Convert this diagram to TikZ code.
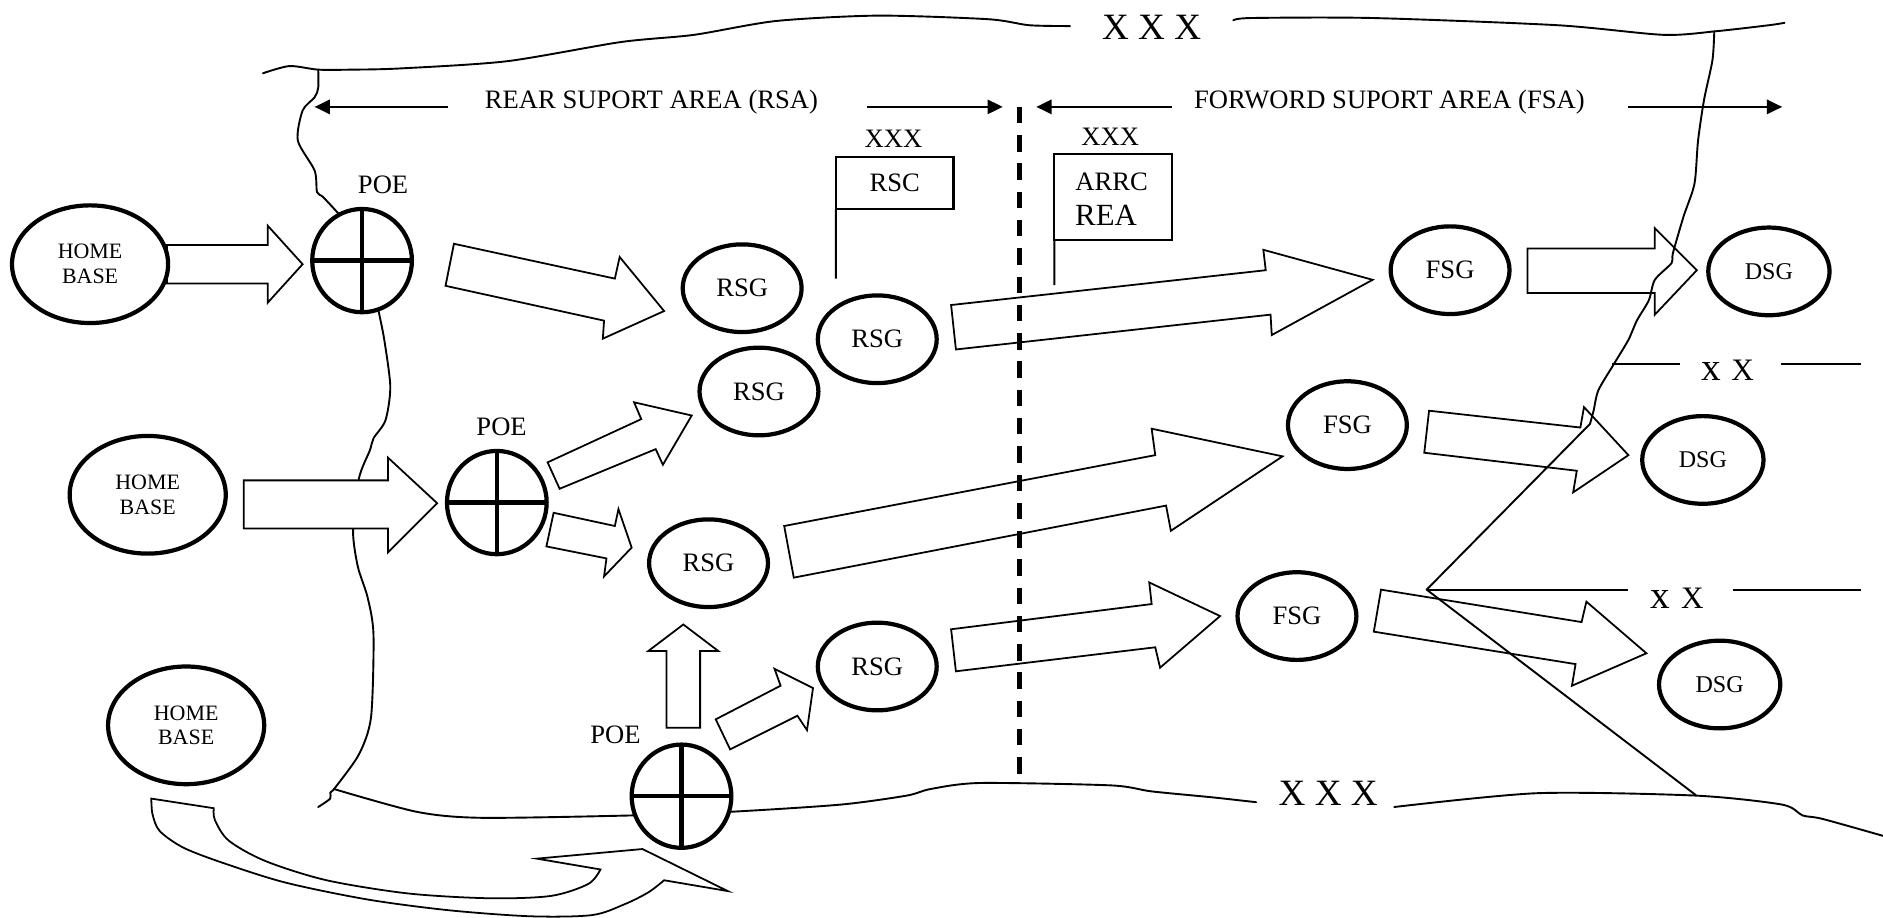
\documentclass[tikz,border=0pt]{standalone}
\usepackage{fontspec}
\setmainfont{Liberation Serif}
\usetikzlibrary{shapes.geometric,arrows.meta}
\begin{document}
\begin{tikzpicture}[x=0.1mm,y=-0.1mm,
  bnd/.style={line width=0.45pt, line join=round, line cap=round},
  blk/.style={draw, line width=0.42pt, fill=white, line join=miter},
  grp/.style={ellipse, draw, line width=1pt, fill=white, inner sep=0pt, outer sep=0pt,
    minimum width=9.9mm, minimum height=7.3mm, font=\fontsize{6.3pt}{7pt}\selectfont},
  dsg/.style={grp, minimum width=10.1mm, font=\fontsize{5.7pt}{7pt}\selectfont},
  hb/.style={grp, minimum width=13mm, minimum height=9.8mm, align=center,
    font=\fontsize{5.2pt}{5.9pt}\selectfont},
  poe/.style={ellipse, draw, line width=1pt, fill=white, inner sep=0pt, outer sep=0pt,
    minimum width=8.3mm, minimum height=8.6mm},
  cross/.style={line width=1pt},
  lbl/.style={font=\fontsize{6.3pt}{7pt}\selectfont, inner sep=0pt, anchor=base},
  big/.style={font=\fontsize{8.8pt}{10pt}\selectfont, inner sep=0pt, anchor=base},
  flagbox/.style={draw, line width=0.5pt, inner sep=0pt, outer sep=0pt, minimum width=9.8mm,
    font=\fontsize{6.3pt}{7pt}\selectfont},
  pole/.style={line width=0.5pt},
  area/.style={line width=0.45pt, -{Triangle[length=3.6pt,width=3.4pt]}},
  front/.style={line width=1.1pt, dash pattern=on 3.9pt off 2.8pt},
  xxline/.style={line width=0.45pt},
]
\useasboundingbox (0,0) rectangle (1568,764);

% ---- boundaries ----
\draw[bnd] plot[smooth,tension=0.45] coordinates {(219,61) (241,55) (265,58) (292,58) (333,57) (422,51) (517,35) (578,29) (646,17.5) (731,13) (823,16) (857,21) (891,21.7)};
\draw[bnd] plot[smooth,tension=0.45] coordinates {(1027,17) (1042,15) (1143,15) (1297,21) (1385,29) (1429,26) (1473,21) (1486,19)};
\draw[bnd] plot[smooth,tension=0.45] coordinates {(265,58) (265,73) (262,81) (252,92) (248,117) (262,142) (264,160) (269,164) (282,178)};
\draw[bnd] plot[smooth,tension=0.45] coordinates {(315,258) (320,283) (325,322) (321,350) (311,365) (308,375) (299,398) (294,442) (298,472) (306,497) (311,528) (309,597) (299,628) (279,656) (275,660) (275,665) (265,672)};
\draw[bnd] plot[smooth,tension=0.45] coordinates {(278,657) (347,676) (401,681) (527,679) (608,676) (700,670) (755,662.5) (775,657) (816,652) (925,654) (959,659) (1010,664) (1046,668)};
\draw[bnd] plot[smooth,tension=0.45] coordinates {(1161,672) (1280,660.5) (1412,662.5) (1484,670) (1501,679) (1518,682) (1575,698)};

% ---- block arrows ----
\draw[blk] (139,204) -- (223,204) -- (223,188) -- (252,220) -- (223,252) -- (223,236) -- (139,236) -- cycle;
\draw[blk] (378,203) -- (512,232) -- (516,214) -- (553,259) -- (502,282) -- (503,267) -- (371,238) -- cycle;
\draw[blk] (456,385) -- (534,349) -- (528,335) -- (576,346) -- (552,387) -- (546,374) -- (466,407) -- cycle;
\draw[blk] (461,427) -- (512,438) -- (515,424) -- (526,456) -- (503,480) -- (505,465) -- (455,455) -- cycle;
\draw[blk] (203,400) -- (323,400) -- (323,381) -- (364,419) -- (323,460) -- (323,440) -- (203,440) -- cycle;
\draw[blk] (555,606) -- (555,542) -- (540,542) -- (569,520) -- (598,542) -- (583,542) -- (583,606) -- cycle;
\draw[blk] (596,599) -- (650,571) -- (645,557) -- (677,573) -- (672,608) -- (664,596) -- (608,624) -- cycle;
\draw[blk] (792,254) -- (1054,225) -- (1052,208) -- (1143,233) -- (1059,279) -- (1058,262) -- (796,291) -- cycle;
\draw[blk] (653,438) -- (962,379) -- (959,357) -- (1068,380) -- (975,442) -- (971,421) -- (661,481) -- cycle;
\draw[blk] (792,524) -- (959,503) -- (957,485) -- (1016,513) -- (966,556) -- (962,539) -- (796,559) -- cycle;
\draw[blk] (1272,207) -- (1378,207) -- (1378,190) -- (1413,225) -- (1378,262) -- (1378,244) -- (1272,244) -- cycle;
\draw[blk] (1190,342) -- (1316,356) -- (1319,339) -- (1356,379) -- (1310,410) -- (1313,392) -- (1186,377) -- cycle;
\draw[blk] (1150,491) -- (1317,518) -- (1321,501) -- (1371,544) -- (1309,571) -- (1312,553) -- (1144,526) -- cycle;
% curved arrow home base -> POE
\draw[blk] (126,665) -- (178,673)
  -- plot[smooth,tension=0.5] coordinates {(178,673) (179,683) (190.5,700) (221,717) (272,733) (340,744) (408,748) (459,746) (490,736) (500,724)}
  -- (447,715) -- (535,707) -- (606,742) -- (553,733)
  -- plot[smooth,tension=0.5] coordinates {(553,733) (540,743) (520,753) (493,762) (442,763) (374,758) (306,749) (238,735) (187,719) (153,706) (133,692) (127,678) (126,665)}
  -- cycle;

% ---- front line and right boundary ----
\coordinate (ftop) at (849,89);
\coordinate (fbot) at (849,650);
\draw[front] (ftop) -- (fbot);
\draw[bnd] plot[smooth,tension=0.45] coordinates {(1427.5,26) (1426,50) (1419,83) (1414,117) (1411,153) (1402,180) (1393,211) (1392,219) (1378,233) (1373,250) (1363,267) (1356,283) (1344,303) (1331,325) (1327,342) (1324,353)} -- (1188,491) -- (1412,662);
\draw[xxline] (1342,303) -- (1399,303) (1483,303) -- (1550,303);
\draw[xxline] (1188,491) -- (1356,491) (1443,491) -- (1550,491);
\node[inner sep=0pt, anchor=base west] (xx1) at (1416,317) {{\fontsize{9.3pt}{10pt}\selectfont x} {\fontsize{7.4pt}{8pt}\selectfont X}};
\node[inner sep=0pt, anchor=base west] (xx2) at (1374,507) {{\fontsize{9.3pt}{10pt}\selectfont x} {\fontsize{7.4pt}{8pt}\selectfont X}};

% ---- area labels ----
\draw[area] (373,89) -- (262,89);
\draw[area] (722,89) -- (835,89);
\draw[area] (976,89) -- (863,89);
\draw[area] (1356,89) -- (1484,89);
\node[lbl] (rsa) at (542.5,90) {REAR SUPORT AREA (RSA)};
\node[lbl] (fsa) at (1157,90) {FORWORD SUPORT AREA (FSA)};
\node[big] (xxxtop) at (959,33) {X X X};
\node[big] (xxxbot) at (1106,671) {X X X};

% ---- flags ----
\node[flagbox, minimum height=4.3mm] (rsc) at (745,152.5) {RSC};
\draw[pole] (rsc.south west) -- (696,232);
\node[lbl] (rscx) at (744,123) {XXX};
\node[flagbox, minimum height=7.15mm] (arrc) at (927,164.3) {};
\draw[pole] (arrc.south west) -- (878,237.5);
\node[lbl] (arrcx) at (924.5,121) {XXX};
\node[lbl] (arrct) at (925.7,159) {ARRC};
\node[lbl, font=\fontsize{7.3pt}{8pt}\selectfont] (reat) at (921,187.5) {REA};

% ---- home bases ----
\node[hb] (hb1) at (75,220) {HOME\\BASE};
\node[hb] (hb2) at (123,412) {HOME\\BASE};
\node[hb] (hb3) at (155,604) {HOME\\BASE};

% ---- POEs ----
\node[poe] (poe1) at (301.5,217) {};
\node[poe] (poe2) at (413.7,418.5) {};
\node[poe] (poe3) at (567.5,663) {};
\foreach \p in {poe1,poe2,poe3}{
  \draw[cross] (\p.north) -- (\p.south) (\p.west) -- (\p.east);
}
\node[lbl] (poe1l) at (319,161) {POE};
\node[lbl] (poe2l) at (417.7,362.5) {POE};
\node[lbl] (poe3l) at (512.5,619) {POE};

% ---- support groups ----
\node[grp] (rsga) at (618,240) {RSG};
\node[grp] (rsgb) at (730.5,282.5) {RSG};
\node[grp] (rsgc) at (632,326) {RSG};
\node[grp] (rsgd) at (590,469) {RSG};
\node[grp] (rsge) at (730.5,555) {RSG};
\node[grp] (fsga) at (1207.5,225) {FSG};
\node[grp] (fsgb) at (1122,354) {FSG};
\node[grp] (fsgc) at (1080,513) {FSG};
\node[dsg] (dsga) at (1473,226) {DSG};
\node[dsg] (dsgb) at (1418,383) {DSG};
\node[dsg] (dsgc) at (1432,570) {DSG};
\end{tikzpicture}
\end{document}
